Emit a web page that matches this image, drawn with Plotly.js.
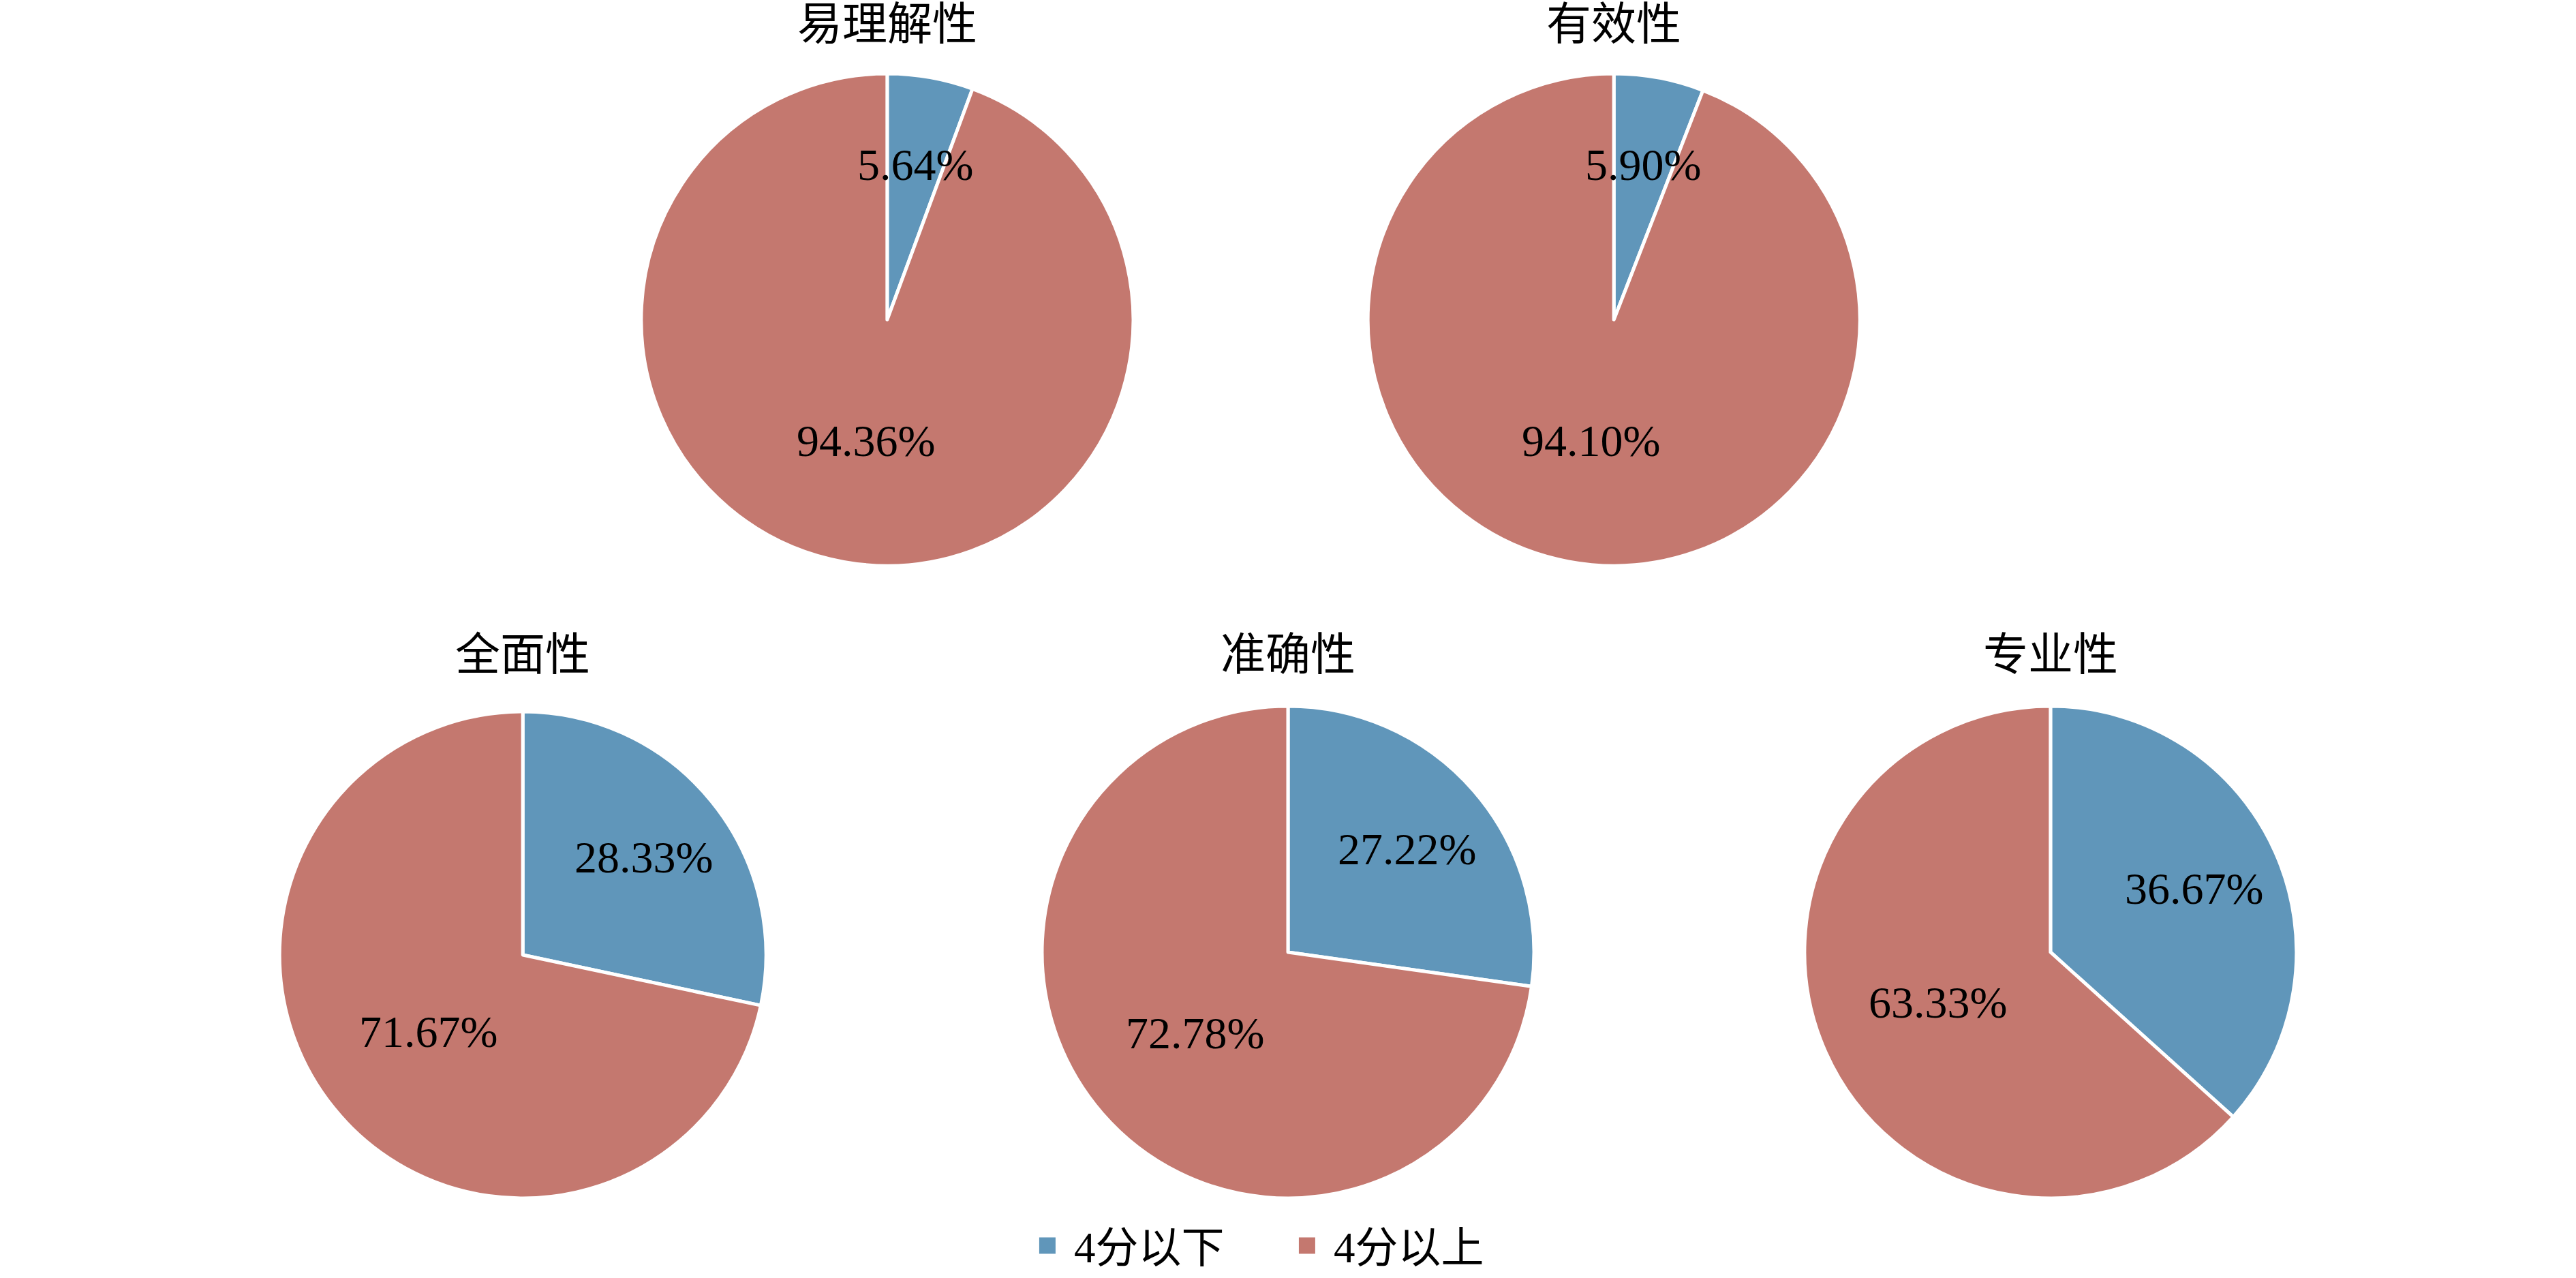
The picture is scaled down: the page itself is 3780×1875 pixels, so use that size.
<!DOCTYPE html>
<html>
<head>
<meta charset="utf-8">
<script src="https://cdn.plot.ly/plotly-3.0.1.min.js"></script>
<style>
  html, body { margin: 0; padding: 0; background: #fff; }
  #chart { width: 3780px; height: 1875px; }
</style>
</head>
<body>
<div id="chart"></div>
<script>
// categories and values (percent)
const seriesLabels = ['4分以下', '4分以上'];
const pieTitles = ['易理解性', '有效性', '全面性', '准确性', '专业性'];
const below4 = [5.64, 5.90, 28.33, 27.22, 36.67];
const above4 = [94.36, 94.10, 71.67, 72.78, 63.33];

const W = 3780, H = 1875;
const sliceColors = ['#6096ba', '#c4786f'];
const serif = '"Liberation Serif", "Noto Sans CJK SC", serif';

// pie domains (paper fractions)
const domains = [
  { x: [0.2489, 0.4399], y: [0.5573, 0.9424] },
  { x: [0.5310, 0.7220], y: [0.5573, 0.9424] },
  { x: [0.1085, 0.2974], y: [0.0624, 0.4432] },
  { x: [0.4045, 0.5955], y: [0.0624, 0.4475] },
  { x: [0.7005, 0.8915], y: [0.0624, 0.4475] }
];
const titleY = [0.981, 0.981, 0.488, 0.488, 0.488];

const traces = [];
const annotations = [];

pieTitles.forEach((name, i) => {
  const vals = [below4[i], above4[i]];
  const dom = domains[i];
  traces.push({
    type: 'pie',
    labels: seriesLabels,
    values: vals,
    domain: dom,
    sort: false,
    direction: 'clockwise',
    rotation: 0,
    textinfo: 'none',
    hoverinfo: 'label+value',
    marker: { colors: sliceColors, line: { color: '#ffffff', width: 5 } },
    showlegend: i === 0
  });

  // title above each pie
  annotations.push({
    text: name,
    xref: 'paper', yref: 'paper',
    x: (dom.x[0] + dom.x[1]) / 2, y: titleY[i],
    xanchor: 'center', yanchor: 'middle',
    showarrow: false,
    font: { family: serif, size: 66, color: '#000' }
  });

  // value labels placed along each slice's mid angle
  const cx = (dom.x[0] + dom.x[1]) / 2;
  const cy = (dom.y[0] + dom.y[1]) / 2;
  const r = Math.min((dom.x[1] - dom.x[0]) * W, (dom.y[1] - dom.y[0]) * H) / 2;
  const total = vals[0] + vals[1];
  let start = 0;
  vals.forEach((v, k) => {
    const mid = (start + v / 2) / total * 2 * Math.PI;
    start += v;
    const frac = k === 0 ? 0.64 : 0.5;
    annotations.push({
      text: v.toFixed(2) + '%',
      xref: 'paper', yref: 'paper',
      x: cx + Math.sin(mid) * r * frac / W,
      y: cy + Math.cos(mid) * r * frac / H,
      xanchor: 'center', yanchor: 'middle',
      showarrow: false,
      font: { family: serif, size: 66, color: '#000' }
    });
  });
});

const layout = {
  width: W,
  height: H,
  margin: { t: 0, r: 0, b: 0, l: 0, autoexpand: false },
  paper_bgcolor: '#ffffff',
  plot_bgcolor: '#ffffff',
  font: { family: serif, size: 63, color: '#000' },
  showlegend: true,
  legend: {
    orientation: 'h',
    x: 0.4013, xanchor: 'left',
    y: 0.0, yanchor: 'bottom',
    font: { family: serif, size: 63, color: '#000' },
    entrywidth: 317,
    itemwidth: 49
  },
  annotations: annotations
};

Plotly.newPlot('chart', traces, layout, { displayModeBar: false, staticPlot: true }).then(() => {
  // bigger legend squares without the white slice border
  document.querySelectorAll('.legendpie').forEach(p => {
    p.setAttribute('transform', 'translate(20,0) scale(2)');
    p.style.strokeWidth = '0';
  });
});
</script>
</body>
</html>
